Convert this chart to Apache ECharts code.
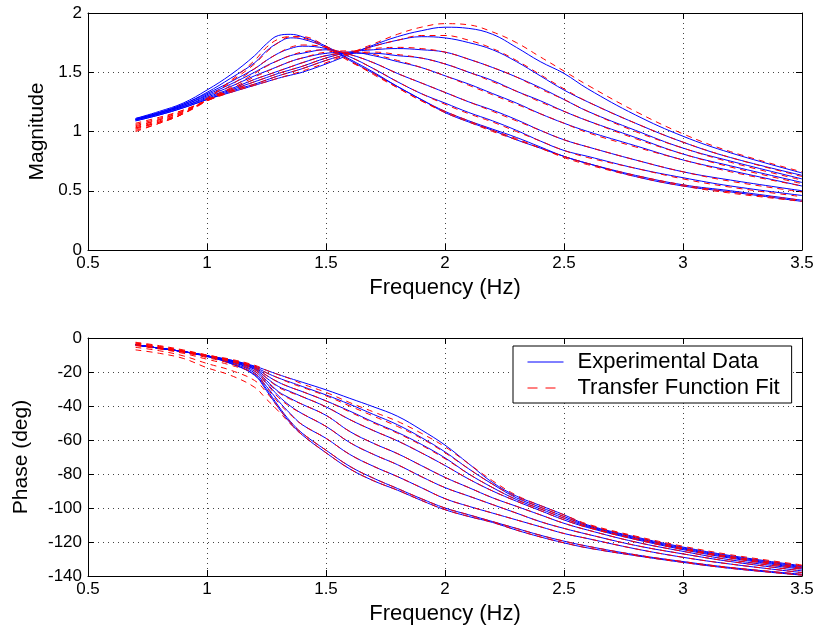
<!DOCTYPE html>
<html><head><meta charset="utf-8">
<script src="https://cdn.jsdelivr.net/npm/echarts@6/dist/echarts.min.js"></script>
<style>html,body{margin:0;padding:0;background:#fff}#c{width:818px;height:633px}</style>
</head><body><div id="c"></div><script>
// Frequency grid (Hz)
const freq = [0.7,0.8,0.9,1.0,1.1,1.2,1.25,1.3,1.35,1.4,1.5,1.6,1.7,1.8,1.9,2.0,2.1,2.2,2.3,2.4,2.5,2.6,2.8,3.0,3.2,3.5];

// Magnitude - experimental data (9 test conditions)
const magExp1 = [1.09,1.14,1.20,1.27,1.33,1.39,1.42,1.45,1.475,1.50,1.57,1.65,1.73,1.80,1.85,1.88,1.87,1.82,1.71,1.59,1.49,1.36,1.14,0.96,0.82,0.65];
const magExp2 = [1.09,1.14,1.20,1.27,1.34,1.40,1.435,1.47,1.50,1.53,1.60,1.66,1.72,1.77,1.80,1.79,1.75,1.69,1.59,1.47,1.35,1.25,1.07,0.91,0.78,0.63];
const magExp3 = [1.10,1.15,1.21,1.28,1.35,1.42,1.455,1.49,1.52,1.55,1.62,1.67,1.69,1.70,1.69,1.67,1.61,1.54,1.46,1.37,1.27,1.17,1.01,0.86,0.75,0.60];
const magExp4 = [1.10,1.15,1.21,1.29,1.36,1.44,1.475,1.51,1.545,1.58,1.64,1.66,1.66,1.64,1.62,1.57,1.50,1.43,1.34,1.26,1.17,1.09,0.95,0.81,0.71,0.57];
const magExp5 = [1.10,1.15,1.22,1.30,1.38,1.47,1.51,1.55,1.59,1.62,1.66,1.67,1.64,1.59,1.54,1.47,1.40,1.32,1.24,1.15,1.07,1.00,0.88,0.76,0.67,0.54];
const magExp6 = [1.10,1.16,1.22,1.31,1.40,1.50,1.555,1.60,1.64,1.66,1.69,1.65,1.58,1.49,1.41,1.33,1.25,1.18,1.10,1.01,0.93,0.87,0.76,0.66,0.59,0.50];
const magExp7 = [1.10,1.16,1.23,1.32,1.42,1.53,1.60,1.66,1.70,1.72,1.70,1.63,1.53,1.42,1.32,1.24,1.16,1.09,1.01,0.92,0.84,0.79,0.69,0.61,0.54,0.46];
const magExp8 = [1.11,1.16,1.23,1.33,1.45,1.58,1.68,1.75,1.79,1.78,1.71,1.60,1.49,1.38,1.27,1.17,1.09,1.02,0.95,0.87,0.79,0.73,0.63,0.55,0.50,0.42];
const magExp9 = [1.11,1.17,1.24,1.35,1.48,1.64,1.74,1.81,1.82,1.80,1.72,1.61,1.50,1.38,1.27,1.16,1.08,1.01,0.93,0.86,0.79,0.73,0.62,0.54,0.49,0.41];

// Magnitude - transfer function fits
const magFit1 = [1.07,1.12,1.18,1.26,1.33,1.39,1.42,1.45,1.48,1.51,1.58,1.66,1.74,1.82,1.88,1.91,1.90,1.84,1.75,1.63,1.51,1.39,1.17,0.98,0.83,0.66];
const magFit2 = [1.06,1.11,1.18,1.26,1.34,1.40,1.435,1.47,1.50,1.53,1.60,1.66,1.72,1.77,1.81,1.81,1.77,1.70,1.60,1.48,1.36,1.25,1.07,0.91,0.78,0.62];
const magFit3 = [1.05,1.10,1.17,1.26,1.34,1.42,1.455,1.49,1.52,1.55,1.62,1.67,1.70,1.71,1.70,1.67,1.61,1.54,1.46,1.36,1.27,1.17,1.00,0.86,0.74,0.59];
const magFit4 = [1.04,1.10,1.17,1.26,1.35,1.44,1.475,1.51,1.545,1.58,1.64,1.67,1.67,1.65,1.62,1.57,1.50,1.42,1.34,1.25,1.17,1.09,0.94,0.81,0.70,0.56];
const magFit5 = [1.03,1.09,1.16,1.26,1.36,1.46,1.505,1.55,1.59,1.62,1.67,1.68,1.65,1.60,1.54,1.47,1.39,1.31,1.23,1.15,1.07,0.99,0.87,0.76,0.66,0.54];
const magFit6 = [1.03,1.08,1.16,1.26,1.37,1.49,1.55,1.60,1.64,1.67,1.69,1.65,1.58,1.49,1.41,1.33,1.25,1.17,1.09,1.01,0.93,0.87,0.76,0.66,0.58,0.49];
const magFit7 = [1.02,1.08,1.15,1.26,1.39,1.53,1.60,1.66,1.71,1.73,1.71,1.63,1.53,1.42,1.32,1.23,1.15,1.08,1.00,0.92,0.84,0.78,0.69,0.60,0.53,0.45];
const magFit8 = [1.01,1.07,1.15,1.27,1.42,1.57,1.67,1.75,1.80,1.80,1.72,1.60,1.48,1.37,1.26,1.17,1.09,1.01,0.94,0.86,0.79,0.73,0.63,0.55,0.49,0.42];
const magFit9 = [1.00,1.07,1.15,1.28,1.43,1.60,1.71,1.78,1.80,1.79,1.71,1.59,1.49,1.37,1.26,1.16,1.08,1.00,0.93,0.86,0.78,0.72,0.62,0.54,0.48,0.41];

// Phase (deg) - experimental data
const phExp1 = [-4,-6,-8,-10.5,-13,-16.5,-19,-21.5,-23.8,-26,-30.5,-35.5,-40.5,-46,-54,-63,-74,-85,-93,-98.5,-104,-110,-117,-123,-128,-134];
const phExp2 = [-4,-6,-8,-10.5,-13,-17,-20.5,-23.5,-26,-28.5,-33.5,-39,-45,-51,-58.5,-67,-77,-86,-94,-99.5,-105,-110.5,-117.5,-123.5,-128.5,-134.5];
const phExp3 = [-4,-6,-8,-10.5,-13.5,-17.5,-22,-26,-29,-31.5,-37,-43,-49.5,-55.5,-62.5,-70.5,-80,-88,-95,-100.5,-106,-111,-118,-124,-129,-135];
const phExp4 = [-4,-6,-8,-10.5,-13.5,-18,-23.5,-28.5,-31.5,-34.5,-40.5,-48,-54.5,-60.5,-67.5,-75,-83,-90,-96,-101.5,-107,-111.5,-118.5,-124.5,-129.5,-135.5];
const phExp5 = [-4,-6,-8,-10.5,-14,-18.5,-25,-31.5,-35.5,-39,-45.5,-55,-62,-68,-75,-82,-88,-94,-99,-104,-109,-113,-120,-125.5,-130.5,-136];
const phExp6 = [-4,-6,-8,-10.5,-14,-19.5,-26.5,-34,-40,-44.5,-52,-61.5,-68.5,-74.5,-81.5,-88,-93,-98,-103,-108,-112,-115.5,-122,-127,-131.5,-137];
const phExp7 = [-4,-6,-8,-10.5,-14.5,-20.5,-28.5,-37,-44.5,-51,-59,-68.5,-75.5,-81.5,-88,-94.5,-99,-103,-107,-111,-115,-118,-124,-129,-133,-138];
const phExp8 = [-4,-6,-8,-10.5,-15,-21.5,-30,-40,-49,-56,-66,-75.5,-82.5,-88.5,-94.5,-100,-104,-108,-112,-116,-119.5,-122.5,-127.5,-131.5,-135,-139];
const phExp9 = [-4,-6,-8,-11,-15,-22,-31,-41,-50,-57,-67.5,-77,-84,-89.5,-95.5,-101,-105,-108.5,-113,-117,-120.5,-123.5,-128,-132,-135.5,-139.5];

// Phase (deg) - transfer function fits
const phFit1 = [-2.5,-4.5,-7,-10,-12.5,-16,-19,-21.5,-24,-27,-32,-38,-43.5,-49,-56,-64,-74,-84,-92.5,-98.5,-104,-109.5,-116.5,-122.5,-127.5,-133.5];
const phFit2 = [-3,-5,-7.5,-10,-13,-16.5,-20.5,-23.5,-26.5,-29,-34,-40,-46,-52,-59,-67.5,-77,-86,-93.5,-99.5,-105,-110,-117,-123.5,-128.5,-134];
const phFit3 = [-3,-5,-7.5,-10.5,-13.5,-17,-22,-26,-29,-31.5,-37,-43.5,-50,-56,-63,-71,-80,-88,-95,-100.5,-106,-111,-118,-124,-129,-135];
const phFit4 = [-3.5,-5.5,-8,-10.5,-13.5,-17.5,-23.5,-29,-32,-34.5,-40.5,-48,-54.5,-60.5,-67.5,-75,-83,-90,-96,-101.5,-107,-111.5,-118.5,-124.5,-129.5,-135.5];
const phFit5 = [-4,-6,-8,-11,-14,-18.5,-25.5,-32,-36,-39,-45.5,-55,-62,-68,-75,-82,-88,-94,-99,-104,-109,-113,-120,-125.5,-130.5,-136];
const phFit6 = [-4,-6,-8.5,-11.5,-15,-19.5,-27,-35,-40.5,-44.5,-52,-61.5,-68.5,-74.5,-81.5,-88,-93,-98,-103,-108,-112,-115.5,-122,-127,-131.5,-137];
const phFit7 = [-4.5,-6.5,-9,-12.5,-16,-21,-29,-38,-45,-51,-59,-68.5,-75.5,-81.5,-88,-94.5,-99,-103,-107,-111,-115,-118,-124,-129,-133,-138];
const phFit8 = [-5.5,-7.5,-10.5,-15,-19,-25,-32,-41,-49.5,-56,-66,-75.5,-82.5,-88.5,-94.5,-100,-104,-108,-112,-116,-119.5,-122.5,-127.5,-131.5,-135,-139];
const phFit9 = [-7,-9,-12,-17.5,-22,-29,-36,-43,-50.5,-57,-67.5,-77,-84,-89.5,-95.5,-101,-105,-108.5,-113,-117,-120.5,-123.5,-128,-132,-135.5,-139.5];

const magExp = [magExp1,magExp2,magExp3,magExp4,magExp5,magExp6,magExp7,magExp8,magExp9];
const magFit = [magFit1,magFit2,magFit3,magFit4,magFit5,magFit6,magFit7,magFit8,magFit9];
const phExp = [phExp1,phExp2,phExp3,phExp4,phExp5,phExp6,phExp7,phExp8,phExp9];
const phFit = [phFit1,phFit2,phFit3,phFit4,phFit5,phFit6,phFit7,phFit8,phFit9];

const FONT = 'Liberation Sans';
const chart = echarts.init(document.getElementById('c'), null, {renderer: 'canvas'});

function xAxis(grid, pos, main) {
  return {
    type: 'value', gridIndex: grid, position: pos, min: 0.5, max: 3.5, interval: 0.5,
    name: main ? 'Frequency (Hz)' : '', nameLocation: 'middle', nameGap: 27,
    nameTextStyle: {fontFamily: FONT, fontSize: 22, color: '#000'},
    axisLine: {show: true, onZero: false, lineStyle: {color: '#000', width: 1}},
    axisTick: {show: true, inside: true, length: 6, lineStyle: {color: '#000'}},
    axisLabel: {show: main, fontFamily: FONT, fontSize: 17, color: '#000', margin: 5},
    splitLine: {show: main, lineStyle: {color: '#444', type: [1, 4], width: 1}}
  };
}
function yAxis(grid, pos, main, min, max, interval, name, gap) {
  return {
    type: 'value', gridIndex: grid, position: pos, min: min, max: max, interval: interval,
    name: main ? name : '', nameLocation: 'middle', nameGap: gap,
    nameTextStyle: {fontFamily: FONT, fontSize: 21, color: '#000'},
    axisLine: {show: true, onZero: false, lineStyle: {color: '#000', width: 1}},
    axisTick: {show: true, inside: true, length: 6, lineStyle: {color: '#000'}},
    axisLabel: {show: main, fontFamily: FONT, fontSize: 17, color: '#000', margin: 6},
    splitLine: {show: main, lineStyle: {color: '#444', type: [1, 4], width: 1}}
  };
}

const series = [];
function addSet(list, xi, yi, name, color, dashed) {
  list.forEach(arr => {
    series.push({
      type: 'line', name: name, xAxisIndex: xi, yAxisIndex: yi,
      data: freq.map((f, k) => [f, arr[k]]),
      symbol: 'none', showSymbol: false, smooth: 0.4,
      silent: true, z: dashed ? 3 : 2,
      lineStyle: {color: color, width: 1, type: dashed ? [6, 5] : 'solid'},
      itemStyle: {color: color}
    });
  });
}
addSet(magExp, 0, 0, 'Experimental Data', '#0000ff', false);
addSet(magFit, 0, 0, 'Transfer Function Fit', '#ff0000', true);
addSet(phExp, 2, 2, 'Experimental Data', '#0000ff', false);
addSet(phFit, 2, 2, 'Transfer Function Fit', '#ff0000', true);

chart.setOption({
  animation: false,
  backgroundColor: '#fff',
  grid: [
    {left: 88, top: 13, right: 16, height: 237, show: false},
    {left: 88, top: 338, right: 16, height: 238, show: false}
  ],
  xAxis: [xAxis(0, 'bottom', true), xAxis(0, 'top', false), xAxis(1, 'bottom', true), xAxis(1, 'top', false)],
  yAxis: [
    yAxis(0, 'left', true, 0, 2, 0.5, 'Magnitude', 35),
    yAxis(0, 'right', false, 0, 2, 0.5, '', 0),
    yAxis(1, 'left', true, -140, 0, 20, 'Phase (deg)', 56),
    yAxis(1, 'right', false, -140, 0, 20, '', 0)
  ],
  legend: {
    data: [
      {name: 'Experimental Data', lineStyle: {width: 1, type: 'solid'}},
      {name: 'Transfer Function Fit', lineStyle: {width: 1, type: [10, 8]}}
    ],
    orient: 'vertical', left: 513, top: 346,
    padding: [5, 12, 4, 14], itemGap: 4, itemWidth: 36, itemHeight: 20,
    backgroundColor: '#fff', borderColor: '#000', borderWidth: 1, borderRadius: 0,
    itemStyle: {opacity: 0, borderWidth: 0},
    lineStyle: {width: 1},
    textStyle: {fontFamily: FONT, fontSize: 22, color: '#000', padding: [0, 0, 0, 9], lineHeight: 20},
    selectedMode: false
  },
  series: series
});
</script></body></html>
